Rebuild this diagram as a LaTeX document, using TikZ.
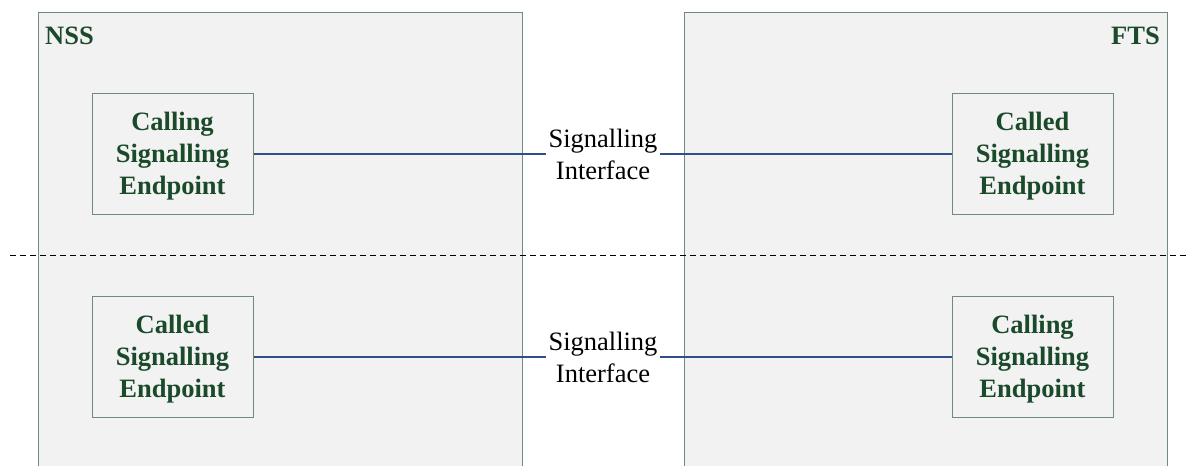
\documentclass[tikz,border=0pt]{standalone}
\usepackage{fontspec}
\setmainfont{Liberation Serif}
\definecolor{txtgreen}{HTML}{1B4A2B}
\definecolor{edgegreen}{HTML}{6E8C78}
\definecolor{panelgray}{HTML}{F2F2F2}
\definecolor{linkblue}{HTML}{2F4F8C}
\begin{document}
\begin{tikzpicture}[x=1pt,y=-1pt,
  panel/.style={draw=edgegreen,fill=panelgray,line width=1pt},
  endpt/.style={draw=edgegreen,fill=panelgray,line width=1pt,minimum width=161pt,minimum height=121pt,
    align=center,font=\fontsize{26.5}{32}\selectfont\bfseries,text=txtgreen,inner sep=0pt,text depth=2pt},
  title/.style={font=\fontsize{26.5}{32}\selectfont\bfseries,text=txtgreen,inner sep=0pt},
  iface/.style={align=center,font=\fontsize{26.5}{32}\selectfont,text=black,inner sep=2pt},
  link/.style={draw=linkblue,line width=1.6pt}]
\useasboundingbox (0,0) rectangle (1187,466);
\clip (0,0) rectangle (1187,466);
\fill[white] (0,0) rectangle (1187,466);
\draw[panel] (38,12) rectangle (522,480);
\draw[panel] (684,12) rectangle (1167,480);
\node[title,anchor=west] (nss) at (45,36) {NSS};
\node[title,anchor=east] (fts) at (1160,36) {FTS};
\node[endpt] (a1) at (172.5,154) {Calling\\Signalling\\Endpoint};
\node[endpt] (b1) at (1032.5,154) {Called\\Signalling\\Endpoint};
\node[endpt] (a2) at (172.5,357) {Called\\Signalling\\Endpoint};
\node[endpt] (b2) at (1032.5,357) {Calling\\Signalling\\Endpoint};
\node[iface] (i1) at (603,154) {Signalling\\Interface};
\node[iface] (i2) at (603,357) {Signalling\\Interface};
\draw[link] (a1.east) -- (i1.west);
\draw[link] (i1.east) -- (b1.west);
\draw[link] (a2.east) -- (i2.west);
\draw[link] (i2.east) -- (b2.west);
\coordinate (dl) at (10,255);
\coordinate (dr) at (1187,255);
\draw[black,line width=1pt,dash pattern=on 6pt off 4pt] (dl) -- (dr);
\end{tikzpicture}
\end{document}
